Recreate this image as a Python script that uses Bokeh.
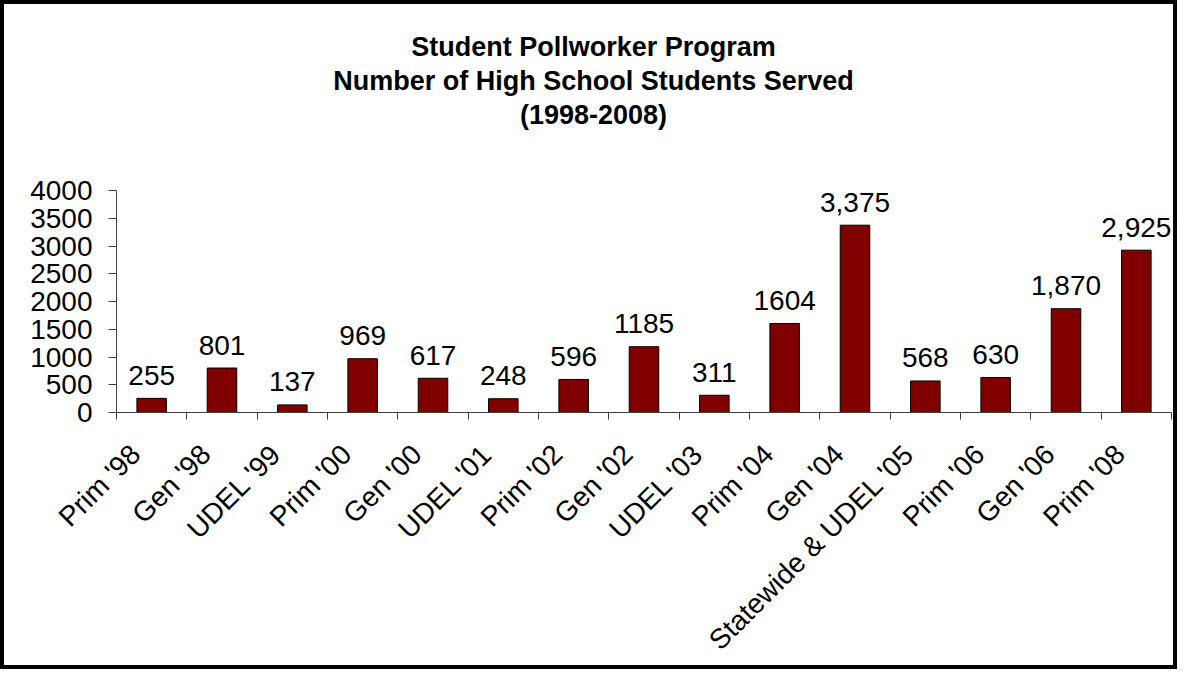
import numpy as np
from bokeh.plotting import figure
from bokeh.models import Range1d, FixedTicker, LinearAxis, ColumnDataSource, Title
from bokeh.embed import file_html
from bokeh.resources import INLINE
from bokeh.core.properties import value

categories = ["Prim '98", "Gen '98", "UDEL '99", "Prim '00", "Gen '00", "UDEL '01",
              "Prim '02", "Gen '02", "UDEL '03", "Prim '04", "Gen '04",
              "Statewide & UDEL '05", "Prim '06", "Gen '06", "Prim '08"]
students = [255, 801, 137, 969, 617, 248, 596, 1185, 311, 1604, 3375, 568, 630, 1870, 2925]
value_labels = ["255", "801", "137", "969", "617", "248", "596", "1185", "311", "1604",
                "3,375", "568", "630", "1,870", "2,925"]
y_ticks = [0, 500, 1000, 1500, 2000, 2500, 3000, 3500, 4000]
title_lines = ["Student Pollworker Program", "Number of High School Students Served", "(1998-2008)"]

n = len(categories)
centers = np.arange(n) + 0.5
source = ColumnDataSource(dict(x=centers, top=students, label=value_labels))

FONT = "Liberation Sans"
FS = "28px"
TITLE_PX = 27

# Arial/Liberation Sans Bold advance widths (per em) used to centre each title line
BOLD_W = {" ": .278, "(": .333, ")": .333, "-": .333, "N": .722, "S": .667, "P": .667,
          "H": .722, "a": .556, "b": .611, "c": .556, "d": .611, "e": .556, "f": .333,
          "g": .611, "h": .611, "i": .278, "k": .556, "l": .278, "m": .889, "n": .611,
          "o": .611, "r": .389, "s": .556, "t": .333, "u": .611, "v": .556, "w": .778}


def text_width(s, px):
    return sum(BOLD_W.get(ch, .556) for ch in s) * px


FRAME_LEFT = 117   # page x of plot frame
TITLE_CENTER = 594  # page x of title centre

p = figure(width=1177, height=669, x_range=Range1d(0, n), y_range=Range1d(0, 4000),
           output_backend="svg", toolbar_location=None, x_axis_type=None,
           min_border_left=112, min_border_right=10, min_border_top=186, min_border_bottom=261)
p.styles = {"border": "4px solid black", "box-sizing": "border-box"}
p.outline_line_color = None
p.grid.visible = False
p.background_fill_color = "white"
p.border_fill_color = "white"
p.title = None

# spacer between plot area and title block
p.add_layout(Title(text=" ", text_font_size="1px", standoff=57), "above")
# title lines, added from the one nearest the plot outward
for line in reversed(title_lines):
    t = Title(text=line, align="left",
              offset=TITLE_CENTER - FRAME_LEFT - text_width(line, TITLE_PX) / 2,
              text_font=FONT, text_font_size=f"{TITLE_PX}px", text_font_style="bold",
              text_color="black", text_line_height=1.0, standoff=2)
    p.add_layout(t, "above")

p.vbar(x="x", top="top", width=0.42, source=source, fill_color="#800000", line_color="black",
       line_width=1)
p.text(x="x", y="top", text="label", source=source, text_align="center",
       text_baseline="alphabetic", y_offset=-23, text_font=value(FONT), text_font_size=FS,
       text_color="black")

label_pos = centers - 0.23
xaxis = LinearAxis(ticker=FixedTicker(ticks=list(label_pos), minor_ticks=list(range(n + 1))))
xaxis.major_label_overrides = {float(c): cat for c, cat in zip(label_pos, categories)}
xaxis.major_tick_out = 0
xaxis.major_tick_in = 0
xaxis.minor_tick_out = 7
xaxis.minor_tick_in = 0
xaxis.axis_line_color = "#404040"
xaxis.minor_tick_line_color = "#404040"
xaxis.major_label_orientation = np.pi / 4
xaxis.major_label_text_font = FONT
xaxis.major_label_text_font_size = FS
xaxis.major_label_text_color = "black"
xaxis.major_label_standoff = 30
p.add_layout(xaxis, "below")

yaxis = p.yaxis[0]
yaxis.ticker = FixedTicker(ticks=y_ticks)
yaxis.major_tick_out = 8
yaxis.major_tick_in = 0
yaxis.minor_tick_line_color = None
yaxis.axis_line_color = "#404040"
yaxis.major_tick_line_color = "#404040"
yaxis.major_label_text_font = FONT
yaxis.major_label_text_font_size = FS
yaxis.major_label_text_color = "black"
yaxis.major_label_standoff = 16

open("out.html", "w").write(file_html(p, INLINE))
